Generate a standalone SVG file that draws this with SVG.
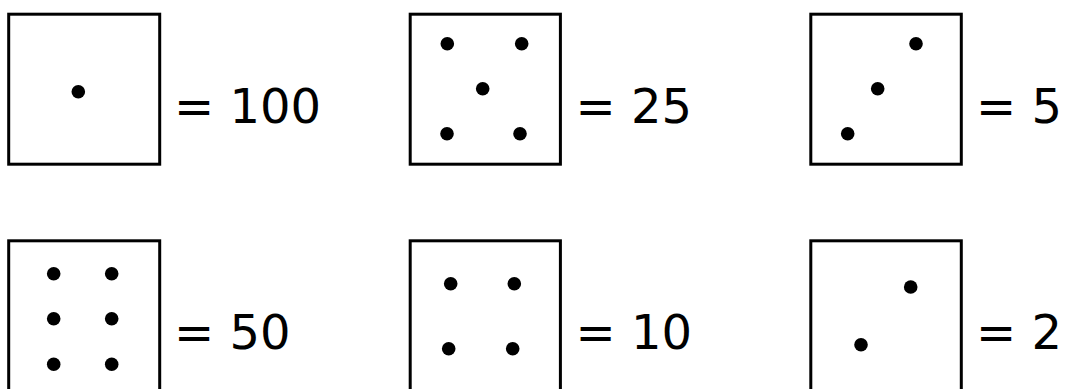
<svg xmlns="http://www.w3.org/2000/svg" width="1065" height="389" viewBox="0 0 1065 389">
<style>
.box{fill:#fff;stroke:#000;stroke-width:3}
.dot{fill:#000}
.lbl{font-family:Verdana,"DejaVu Sans",sans-serif;font-size:48px;fill:#000}
</style>
<rect width="1065" height="389" fill="#fff"/>
<g id="n100">
<rect class="box" x="8.7" y="14.2" width="151" height="150"/>
<circle class="dot" cx="78.3" cy="91.8" r="6.8"/>
<text class="lbl" x="174" y="122.5">= 100</text>
</g>
<g id="n25">
<rect class="box" x="410.2" y="14.2" width="150.2" height="150"/>
<circle class="dot" cx="447.3" cy="43.7" r="6.8"/>
<circle class="dot" cx="521.7" cy="43.7" r="6.8"/>
<circle class="dot" cx="482.7" cy="88.7" r="6.8"/>
<circle class="dot" cx="447" cy="133.7" r="6.8"/>
<circle class="dot" cx="520" cy="133.7" r="6.8"/>
<text class="lbl" x="575.5" y="122.5">= 25</text>
</g>
<g id="n5">
<rect class="box" x="810.8" y="14.2" width="150.5" height="150"/>
<circle class="dot" cx="916" cy="43.7" r="6.8"/>
<circle class="dot" cx="877.7" cy="88.7" r="6.8"/>
<circle class="dot" cx="847.7" cy="133.7" r="6.8"/>
<text class="lbl" x="976" y="122.5">= 5</text>
</g>
<g id="n50">
<rect class="box" x="8.7" y="240.8" width="151" height="150"/>
<circle class="dot" cx="53.7" cy="273.7" r="6.8"/>
<circle class="dot" cx="111.7" cy="273.7" r="6.8"/>
<circle class="dot" cx="53.7" cy="318.7" r="6.8"/>
<circle class="dot" cx="111.7" cy="318.7" r="6.8"/>
<circle class="dot" cx="53.7" cy="364.3" r="6.8"/>
<circle class="dot" cx="111.7" cy="364.3" r="6.8"/>
<text class="lbl" x="174" y="349">= 50</text>
</g>
<g id="n10">
<rect class="box" x="410.2" y="240.8" width="150.2" height="150"/>
<circle class="dot" cx="450.7" cy="283.7" r="6.8"/>
<circle class="dot" cx="514.3" cy="283.7" r="6.8"/>
<circle class="dot" cx="448.7" cy="348.7" r="6.8"/>
<circle class="dot" cx="512.7" cy="348.7" r="6.8"/>
<text class="lbl" x="575.5" y="349">= 10</text>
</g>
<g id="n2">
<rect class="box" x="810.8" y="240.8" width="150.5" height="150"/>
<circle class="dot" cx="910.7" cy="287" r="6.8"/>
<circle class="dot" cx="861" cy="344.7" r="6.8"/>
<text class="lbl" x="976" y="349">= 2</text>
</g>
<g id="connectors"/>
</svg>
